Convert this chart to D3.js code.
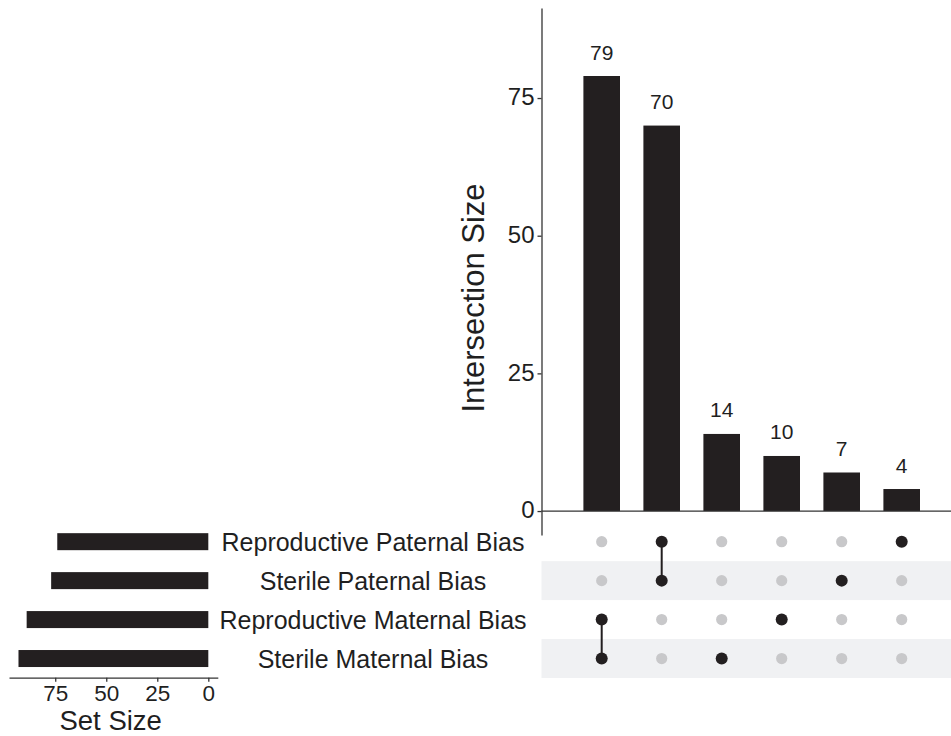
<!DOCTYPE html>
<html>
<head>
<meta charset="utf-8">
<script src="https://cdn.jsdelivr.net/npm/d3@7"></script>
<style>
  html, body { margin: 0; padding: 0; background: #fff; }
  svg { display: block; font-family: "Liberation Sans", Arial, Helvetica, sans-serif; }
</style>
</head>
<body>
<svg id="chart" width="951" height="736"></svg>
<script>
// ---- data ----
const sets = ["Reproductive Paternal Bias", "Sterile Paternal Bias", "Reproductive Maternal Bias", "Sterile Maternal Bias"];
const setSizes = [74, 77, 89, 93];
const intersections = ["RMB&SMB", "RPB&SPB", "SMB", "RMB", "SPB", "RPB"];
const intersectionSizes = [79, 70, 14, 10, 7, 4];
const intersectionMembers = [
  ["Reproductive Maternal Bias", "Sterile Maternal Bias"],
  ["Reproductive Paternal Bias", "Sterile Paternal Bias"],
  ["Sterile Maternal Bias"],
  ["Reproductive Maternal Bias"],
  ["Sterile Paternal Bias"],
  ["Reproductive Paternal Bias"]
];
const yTicks = [0, 25, 50, 75];
const setTicks = [0, 25, 50, 75];

// ---- styles ----
const ink = "#231f20";
const textCol = "#1f1f1f";
const greyDot = "#c8c8ca";
const bandFill = "#f0f1f3";

const svg = d3.select("#chart");

// ---- scales ----
const x = d3.scaleBand().domain(intersections).range([571.7, 931.7]).paddingInner(0.39).paddingOuter(0.195);
const y = d3.scaleLinear().domain([-4.35, 91.35]).range([535, 8]);
const rowY = d3.scaleBand().domain(sets).range([522.2, 678]);
const setX = d3.scaleLinear().domain([-4.65, 97.65]).range([217.8, 9]);

const axisX = 541.5;
const rowStep = rowY.step();

// ---- matrix stripes ----
svg.append("g").selectAll("rect")
  .data(sets.filter((s, i) => i % 2 === 1))
  .join("rect")
  .attr("x", axisX)
  .attr("y", d => rowY(d))
  .attr("width", 951 - axisX)
  .attr("height", rowStep)
  .attr("fill", bandFill);

// ---- intersection bars ----
svg.append("g").selectAll("rect")
  .data(intersections)
  .join("rect")
  .attr("x", d => x(d))
  .attr("width", x.bandwidth())
  .attr("y", (d, i) => y(intersectionSizes[i]))
  .attr("height", (d, i) => y(0) - y(intersectionSizes[i]))
  .attr("fill", ink);

// bar labels
svg.append("g").selectAll("text")
  .data(intersections)
  .join("text")
  .attr("x", d => x(d) + x.bandwidth() / 2)
  .attr("y", (d, i) => y(intersectionSizes[i]) - 16.5)
  .attr("text-anchor", "middle")
  .attr("font-size", 21)
  .attr("fill", textCol)
  .text((d, i) => intersectionSizes[i]);

// zero baseline
svg.append("line")
  .attr("x1", axisX).attr("x2", 951)
  .attr("y1", y(0)).attr("y2", y(0))
  .attr("stroke", "#333").attr("stroke-width", 1.3);

// y axis
const yAxis = svg.append("g")
  .attr("transform", `translate(${axisX},0)`)
  .call(d3.axisLeft(y).tickValues(yTicks).tickSize(4).tickPadding(3).tickSizeOuter(0));
yAxis.select(".domain").attr("stroke", "#333").attr("stroke-width", 1.3);
yAxis.selectAll(".tick line").attr("stroke", "#333").attr("stroke-width", 1.3);
yAxis.selectAll(".tick text").attr("font-size", 24).attr("fill", textCol).attr("font-family", "Liberation Sans, Arial, sans-serif").attr("dy", "0.28em");

// y title
svg.append("text")
  .attr("transform", `translate(484,298) rotate(-90)`)
  .attr("text-anchor", "middle")
  .attr("font-size", 31)
  .attr("fill", textCol)
  .text("Intersection Size");

// ---- matrix dots ----
const cells = [];
intersections.forEach((it, i) => {
  sets.forEach(s => {
    cells.push({ it, s, on: intersectionMembers[i].includes(s) });
  });
});
const cx = d => x(d) + x.bandwidth() / 2;
const cy = s => rowY(s) + rowStep / 2;

svg.append("g").selectAll("circle")
  .data(cells.filter(c => !c.on))
  .join("circle")
  .attr("cx", c => cx(c.it))
  .attr("cy", c => cy(c.s))
  .attr("r", 5.6)
  .attr("fill", greyDot);

// connectors
svg.append("g").selectAll("line")
  .data(intersections.filter((d, i) => intersectionMembers[i].length > 1))
  .join("line")
  .attr("x1", d => cx(d)).attr("x2", d => cx(d))
  .attr("y1", d => d3.min(intersectionMembers[intersections.indexOf(d)], s => cy(s)))
  .attr("y2", d => d3.max(intersectionMembers[intersections.indexOf(d)], s => cy(s)))
  .attr("stroke", ink).attr("stroke-width", 2);

svg.append("g").selectAll("circle")
  .data(cells.filter(c => c.on))
  .join("circle")
  .attr("cx", c => cx(c.it))
  .attr("cy", c => cy(c.s))
  .attr("r", 6)
  .attr("fill", ink);

// ---- set labels ----
svg.append("g").selectAll("text")
  .data(sets)
  .join("text")
  .attr("x", 373)
  .attr("y", s => cy(s) + 9)
  .attr("text-anchor", "middle")
  .attr("font-size", 25)
  .attr("fill", textCol)
  .text(s => s);

// ---- set size bars ----
svg.append("g").selectAll("rect")
  .data(sets)
  .join("rect")
  .attr("x", (s, i) => setX(setSizes[i]))
  .attr("width", (s, i) => setX(0) - setX(setSizes[i]))
  .attr("y", s => cy(s) - 8.5)
  .attr("height", 17)
  .attr("fill", ink);

// set size axis
const setAxisY = 677.7;
const sAxis = svg.append("g")
  .attr("transform", `translate(0,${setAxisY})`)
  .call(d3.axisBottom(setX).tickValues(setTicks).tickSize(4).tickPadding(3).tickSizeOuter(0));
sAxis.select(".domain").attr("stroke", "#333").attr("stroke-width", 1.3);
sAxis.selectAll(".tick line").attr("stroke", "#333").attr("stroke-width", 1.3);
sAxis.selectAll(".tick text").attr("font-size", 22.5).attr("fill", textCol).attr("font-family", "Liberation Sans, Arial, sans-serif");

svg.append("text")
  .attr("x", 110.7)
  .attr("y", 729.5)
  .attr("text-anchor", "middle")
  .attr("font-size", 27.5)
  .attr("fill", textCol)
  .text("Set Size");
</script>
</body>
</html>
